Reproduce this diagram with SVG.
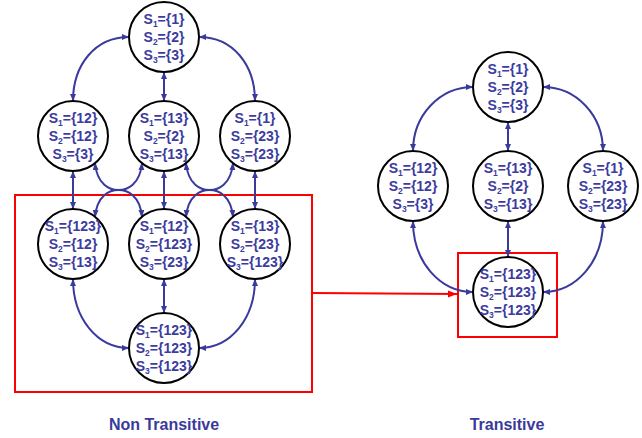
<svg xmlns="http://www.w3.org/2000/svg" width="642" height="438" viewBox="0 0 642 438">
<defs>
<marker id="ah" markerUnits="userSpaceOnUse" markerWidth="8" markerHeight="7" refX="7" refY="3" orient="auto-start-reverse">
<path d="M0,0 L7,3 L0,6 z" fill="#3a3a9c"/>
</marker>
<marker id="rah" markerUnits="userSpaceOnUse" markerWidth="10" markerHeight="8" refX="9" refY="3.5" orient="auto">
<path d="M0,0 L9,3.5 L0,7 z" fill="#ff0000"/>
</marker>
</defs>
<style>
.n circle{fill:#fff;stroke:#000;stroke-width:2}
.n text{font-family:"Liberation Sans",Arial,sans-serif;font-weight:bold;font-size:14px;fill:#3c3ca0;text-anchor:middle}
.sub{font-size:8.5px}
.c path{fill:none;stroke:#3a3a9c;stroke-width:2;marker-start:url(#ah);marker-end:url(#ah)}
.box{fill:none;stroke:#ff0000;stroke-width:2}
.lbl{font-family:"Liberation Sans",Arial,sans-serif;font-weight:bold;font-size:16px;fill:#3a3a9a;text-anchor:middle}
</style>
<rect width="642" height="438" fill="#fff"/>
<rect class="box" x="15" y="195" width="297" height="197"/>
<rect class="box" x="458" y="253" width="99" height="84"/>
<line x1="312" y1="293" x2="457" y2="294" stroke="#ff0000" stroke-width="2" marker-end="url(#rah)"/>
<g id="connectors" class="c">
<path d="M129,37 C95,37 73,65 73,101"/>
<path d="M199,37 C233,37 255,65 255,101"/>
<path d="M164,72 L164,101"/>
<path d="M73,171 L73,209"/>
<path d="M164,171 L164,209"/>
<path d="M255,171 L255,209"/>
<path d="M95,163 C97,185 110,190 118.5,190 C127,190 140,195 142,217"/>
<path d="M142,163 C140,185 127,190 118.5,190 C110,190 97,195 95,217"/>
<path d="M186,163 C188,185 201,190 209.5,190 C218,190 231,195 233,217"/>
<path d="M233,163 C231,185 218,190 209.5,190 C201,190 188,195 186,217"/>
<path d="M73,279 C73,318 97,348 129,348"/>
<path d="M255,279 C255,318 231,348 199,348"/>
<path d="M164,279 L164,313"/>
<path d="M473,87 C440,87 413,115 413,151"/>
<path d="M543,87 C576,87 603,115 603,151"/>
<path d="M508,122 L508,151"/>
<path d="M413,221 C413,262 440,292 473,292"/>
<path d="M603,221 C603,262 576,292 543,292"/>
<path d="M508,221 L508,257"/>
</g>
<g id="n_top" class="n"><circle cx="164" cy="37" r="35"/>
<text x="164" y="23.5">S<tspan class="sub" dy="3">1</tspan><tspan dy="-3">={1}</tspan></text>
<text x="164" y="41.5">S<tspan class="sub" dy="3">2</tspan><tspan dy="-3">={2}</tspan></text>
<text x="164" y="59.5">S<tspan class="sub" dy="3">3</tspan><tspan dy="-3">={3}</tspan></text></g>
<g id="n_m1" class="n"><circle cx="73" cy="136" r="35"/>
<text x="73" y="122.5">S<tspan class="sub" dy="3">1</tspan><tspan dy="-3">={12}</tspan></text>
<text x="73" y="140.5">S<tspan class="sub" dy="3">2</tspan><tspan dy="-3">={12}</tspan></text>
<text x="73" y="158.5">S<tspan class="sub" dy="3">3</tspan><tspan dy="-3">={3}</tspan></text></g>
<g id="n_m2" class="n"><circle cx="164" cy="136" r="35"/>
<text x="164" y="122.5">S<tspan class="sub" dy="3">1</tspan><tspan dy="-3">={13}</tspan></text>
<text x="164" y="140.5">S<tspan class="sub" dy="3">2</tspan><tspan dy="-3">={2}</tspan></text>
<text x="164" y="158.5">S<tspan class="sub" dy="3">3</tspan><tspan dy="-3">={13}</tspan></text></g>
<g id="n_m3" class="n"><circle cx="255" cy="136" r="35"/>
<text x="255" y="122.5">S<tspan class="sub" dy="3">1</tspan><tspan dy="-3">={1}</tspan></text>
<text x="255" y="140.5">S<tspan class="sub" dy="3">2</tspan><tspan dy="-3">={23}</tspan></text>
<text x="255" y="158.5">S<tspan class="sub" dy="3">3</tspan><tspan dy="-3">={23}</tspan></text></g>
<g id="n_l1" class="n"><circle cx="73" cy="244" r="35"/>
<text x="73" y="230.5">S<tspan class="sub" dy="3">1</tspan><tspan dy="-3">={123}</tspan></text>
<text x="73" y="248.5">S<tspan class="sub" dy="3">2</tspan><tspan dy="-3">={12}</tspan></text>
<text x="73" y="266.5">S<tspan class="sub" dy="3">3</tspan><tspan dy="-3">={13}</tspan></text></g>
<g id="n_l2" class="n"><circle cx="164" cy="244" r="35"/>
<text x="164" y="230.5">S<tspan class="sub" dy="3">1</tspan><tspan dy="-3">={12}</tspan></text>
<text x="164" y="248.5">S<tspan class="sub" dy="3">2</tspan><tspan dy="-3">={123}</tspan></text>
<text x="164" y="266.5">S<tspan class="sub" dy="3">3</tspan><tspan dy="-3">={23}</tspan></text></g>
<g id="n_l3" class="n"><circle cx="255" cy="244" r="35"/>
<text x="255" y="230.5">S<tspan class="sub" dy="3">1</tspan><tspan dy="-3">={13}</tspan></text>
<text x="255" y="248.5">S<tspan class="sub" dy="3">2</tspan><tspan dy="-3">={23}</tspan></text>
<text x="255" y="266.5">S<tspan class="sub" dy="3">3</tspan><tspan dy="-3">={123}</tspan></text></g>
<g id="n_bot" class="n"><circle cx="164" cy="348" r="35"/>
<text x="164" y="334.5">S<tspan class="sub" dy="3">1</tspan><tspan dy="-3">={123}</tspan></text>
<text x="164" y="352.5">S<tspan class="sub" dy="3">2</tspan><tspan dy="-3">={123}</tspan></text>
<text x="164" y="370.5">S<tspan class="sub" dy="3">3</tspan><tspan dy="-3">={123}</tspan></text></g>
<g id="t_top" class="n"><circle cx="508" cy="87" r="35"/>
<text x="508" y="73.5">S<tspan class="sub" dy="3">1</tspan><tspan dy="-3">={1}</tspan></text>
<text x="508" y="91.5">S<tspan class="sub" dy="3">2</tspan><tspan dy="-3">={2}</tspan></text>
<text x="508" y="109.5">S<tspan class="sub" dy="3">3</tspan><tspan dy="-3">={3}</tspan></text></g>
<g id="t_m1" class="n"><circle cx="413" cy="186" r="35"/>
<text x="413" y="172.5">S<tspan class="sub" dy="3">1</tspan><tspan dy="-3">={12}</tspan></text>
<text x="413" y="190.5">S<tspan class="sub" dy="3">2</tspan><tspan dy="-3">={12}</tspan></text>
<text x="413" y="208.5">S<tspan class="sub" dy="3">3</tspan><tspan dy="-3">={3}</tspan></text></g>
<g id="t_m2" class="n"><circle cx="508" cy="186" r="35"/>
<text x="508" y="172.5">S<tspan class="sub" dy="3">1</tspan><tspan dy="-3">={13}</tspan></text>
<text x="508" y="190.5">S<tspan class="sub" dy="3">2</tspan><tspan dy="-3">={2}</tspan></text>
<text x="508" y="208.5">S<tspan class="sub" dy="3">3</tspan><tspan dy="-3">={13}</tspan></text></g>
<g id="t_m3" class="n"><circle cx="603" cy="186" r="35"/>
<text x="603" y="172.5">S<tspan class="sub" dy="3">1</tspan><tspan dy="-3">={1}</tspan></text>
<text x="603" y="190.5">S<tspan class="sub" dy="3">2</tspan><tspan dy="-3">={23}</tspan></text>
<text x="603" y="208.5">S<tspan class="sub" dy="3">3</tspan><tspan dy="-3">={23}</tspan></text></g>
<g id="t_bot" class="n"><circle cx="508" cy="292" r="35"/>
<text x="508" y="278.5">S<tspan class="sub" dy="3">1</tspan><tspan dy="-3">={123}</tspan></text>
<text x="508" y="296.5">S<tspan class="sub" dy="3">2</tspan><tspan dy="-3">={123}</tspan></text>
<text x="508" y="314.5">S<tspan class="sub" dy="3">3</tspan><tspan dy="-3">={123}</tspan></text></g>
<text class="lbl" x="164" y="430">Non Transitive</text>
<text class="lbl" x="507" y="430">Transitive</text>
</svg>
